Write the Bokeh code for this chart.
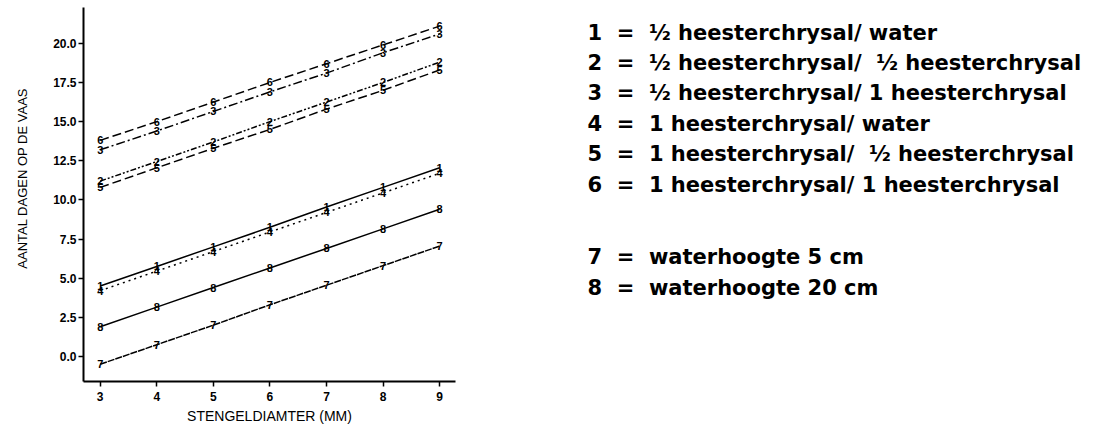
from bokeh.plotting import figure
from bokeh.layouts import row
from bokeh.models import Range1d, FixedTicker, PrintfTickFormatter
from bokeh.core.properties import value
from bokeh.embed import file_html
from bokeh.resources import INLINE

# ---- data ----
diam = [3, 4, 5, 6, 7, 8, 9]
s1 = [4.5, 5.75, 7.0, 8.25, 9.55, 10.8, 12.05]
s2 = [11.2, 12.45, 13.7, 15.0, 16.25, 17.5, 18.8]
s3 = [13.2, 14.4, 15.65, 16.9, 18.1, 19.4, 20.6]
s4 = [4.2, 5.45, 6.7, 7.95, 9.2, 10.45, 11.7]
s5 = [10.8, 12.05, 13.3, 14.5, 15.8, 17.0, 18.3]
s6 = [13.8, 15.0, 16.25, 17.5, 18.7, 19.9, 21.1]
s7 = [-0.5, 0.75, 2.0, 3.3, 4.55, 5.8, 7.05]
s8 = [1.9, 3.15, 4.4, 5.65, 6.9, 8.15, 9.4]
series_labels = ["1", "2", "3", "4", "5", "6", "7", "8"]
y_ticks = [0.0, 2.5, 5.0, 7.5, 10.0, 12.5, 15.0, 17.5, 20.0]
x_ticks = [3, 4, 5, 6, 7, 8, 9]
NB = "\u00a0"
legend_lines = [
    "1" + NB * 2 + "=" + NB * 2 + "\u00bd heesterchrysal/ water",
    "2" + NB * 2 + "=" + NB * 2 + "\u00bd heesterchrysal/" + NB * 2 + "\u00bd heesterchrysal",
    "3" + NB * 2 + "=" + NB * 2 + "\u00bd heesterchrysal/ 1 heesterchrysal",
    "4" + NB * 2 + "=" + NB * 2 + "1 heesterchrysal/ water",
    "5" + NB * 2 + "=" + NB * 2 + "1 heesterchrysal/" + NB * 2 + "\u00bd heesterchrysal",
    "6" + NB * 2 + "=" + NB * 2 + "1 heesterchrysal/ 1 heesterchrysal",
    "7" + NB * 2 + "=" + NB * 2 + "waterhoogte 5 cm",
    "8" + NB * 2 + "=" + NB * 2 + "waterhoogte 20 cm",
]
x_title = "STENGELDIAMTER (MM)"
y_title = "AANTAL DAGEN OP DE VAAS"

series = [s1, s2, s3, s4, s5, s6, s7, s8]
dashes = ["solid", "6 2 2 2 2 2", "9 3 2 3", "2 4", "9 4", "9 4", "7 1", "solid"]

H = 430
TOP, BOTTOM = 7, 49
p = figure(width=468, height=H,
           x_range=Range1d(2.705, 9.28), y_range=Range1d(-1.6, 22.29),
           output_backend="svg", toolbar_location=None,
           min_border_left=83, min_border_right=13,
           min_border_top=TOP, min_border_bottom=BOTTOM)
p.outline_line_color = None
p.xgrid.visible = False
p.ygrid.visible = False

for ys, lab, dash in zip(series, series_labels, dashes):
    p.line(diam, ys, line_color="black", line_width=1.5, line_dash=dash)
    p.text(diam, ys, text=[lab] * len(diam), text_font=value("Liberation Sans"),
           text_font_size="11px", text_font_style="bold", text_color="black",
           text_align="center", text_baseline="middle")

for ax in (p.xaxis[0], p.yaxis[0]):
    ax.axis_line_width = 2
    ax.axis_line_color = "black"
    ax.major_tick_line_width = 1.5
    ax.major_tick_out = 5
    ax.major_tick_in = 0
    ax.minor_tick_line_color = None
    ax.major_label_text_font = "Liberation Sans"
    ax.major_label_text_font_style = "bold"
    ax.major_label_text_font_size = "12px"
    ax.major_label_text_color = "black"
    ax.axis_label_text_font = "Liberation Sans"
    ax.axis_label_text_font_style = "normal"
    ax.axis_label_text_color = "black"

p.xaxis.ticker = FixedTicker(ticks=x_ticks)
p.yaxis.ticker = FixedTicker(ticks=y_ticks)
p.yaxis.formatter = PrintfTickFormatter(format="%.1f")
p.xaxis.axis_label = x_title
p.yaxis.axis_label = NB * 9 + y_title
p.xaxis.axis_label_text_font_size = "14px"
p.yaxis.axis_label_text_font_size = "13px"
p.yaxis.major_label_standoff = 2
p.xaxis.major_label_standoff = 5
p.yaxis.axis_label_standoff = 20
p.xaxis.axis_label_standoff = 4

# ---- legend panel (no axes; data units = pixels, y downward) ----
L = figure(width=632, height=H, x_range=Range1d(0, 632),
           y_range=Range1d(H - BOTTOM, TOP),
           output_backend="svg", toolbar_location=None,
           x_axis_location=None, y_axis_location=None,
           min_border_left=0, min_border_right=0,
           min_border_top=TOP, min_border_bottom=BOTTOM)
L.xgrid.visible = False
L.ygrid.visible = False
L.outline_line_color = None
rows_y = [32, 62.4, 92.8, 123.2, 153.6, 184, 256, 287]
L.text([119] * len(legend_lines), rows_y, text=legend_lines,
       text_font=value("DejaVu Sans"), text_font_style="bold",
       text_font_size="21px", text_color="black",
       text_align="left", text_baseline="alphabetic")

open("out.html", "w").write(file_html(row(p, L), INLINE))
